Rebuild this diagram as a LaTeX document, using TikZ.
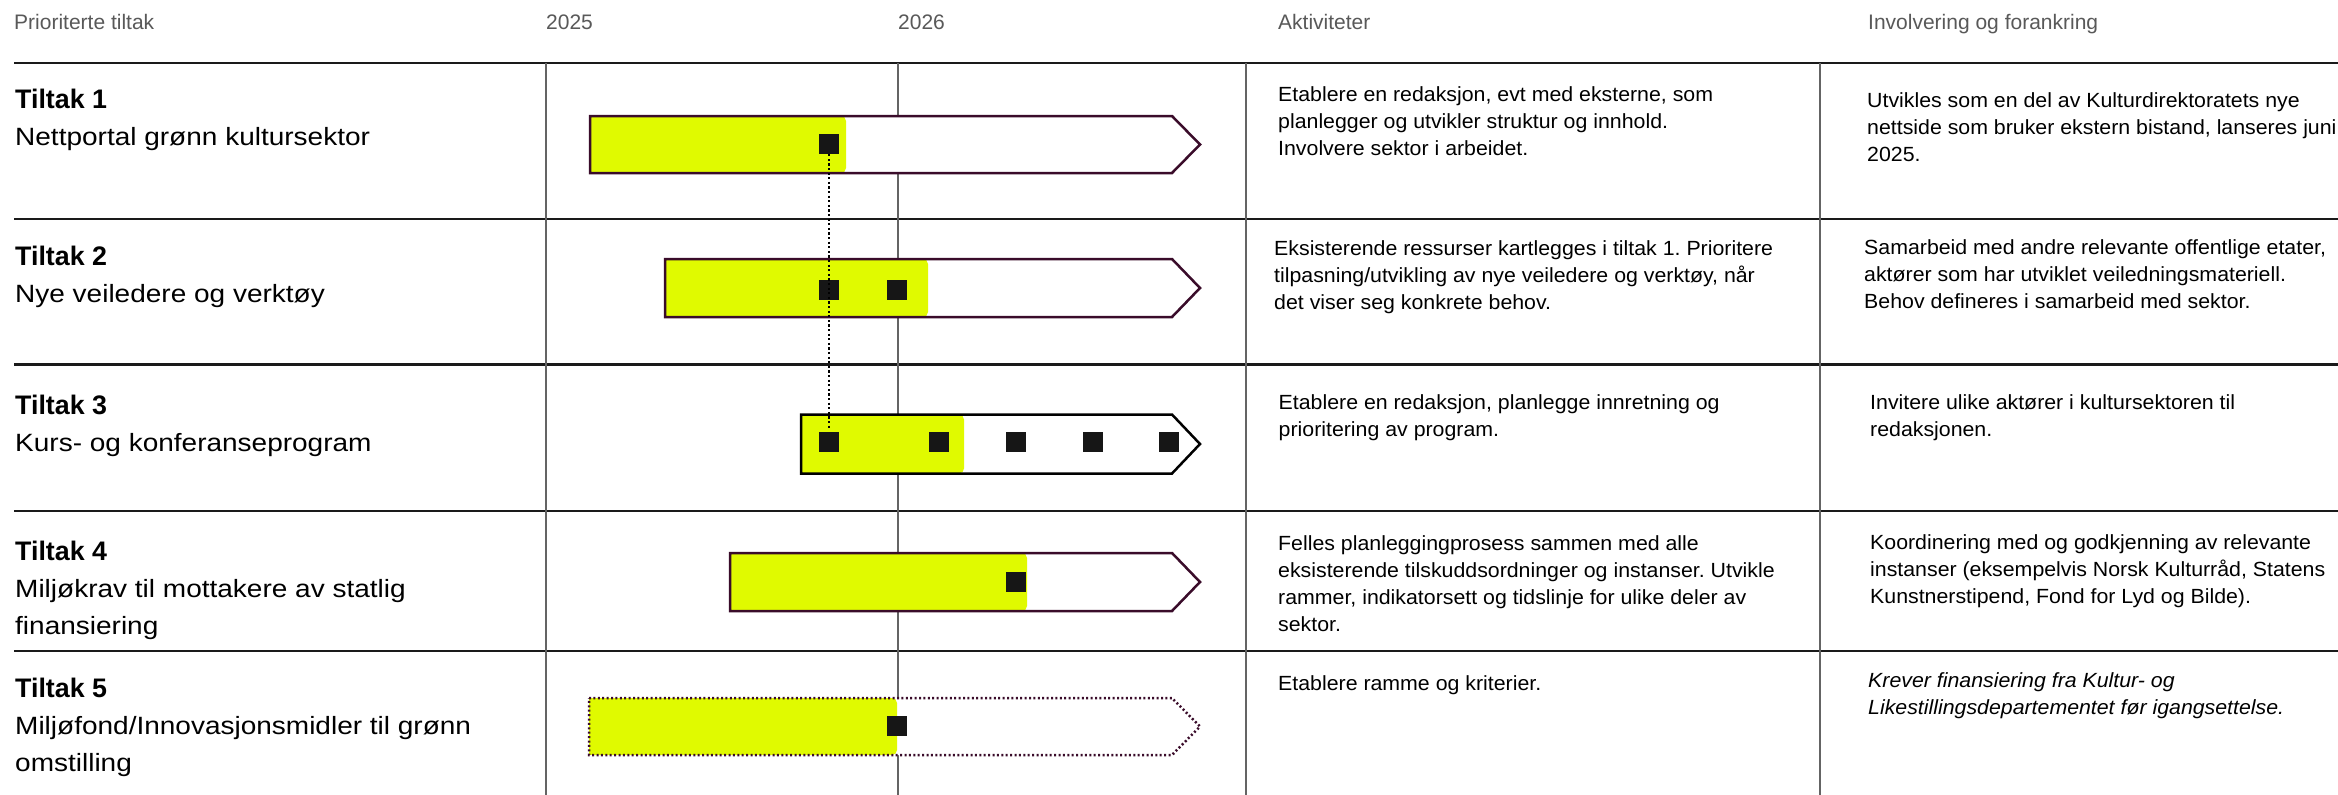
\documentclass[tikz,border=0pt]{standalone}
\usepackage{fontspec}
\setmainfont{Liberation Sans}
\newfontfamily\actfont{Liberation Sans}[FakeStretch=1.04]
\newfontfamily\lftfont{Liberation Sans}[FakeStretch=1.12]
\newfontfamily\tilfont{Liberation Sans}
\frenchspacing
\definecolor{ylw}{RGB}{224,250,0}
\definecolor{barline}{RGB}{58,12,42}
\definecolor{sqc}{RGB}{22,22,22}
\definecolor{hdrgray}{RGB}{89,89,89}
\definecolor{vgray}{RGB}{100,100,100}
\definecolor{hline}{RGB}{26,26,26}
\newcommand\blk[1]{\begin{tabular}[t]{@{}l@{}}#1\end{tabular}}
\newcommand\til[1]{{\tilfont\bfseries\fontsize{26.8}{37}\selectfont #1}}
% L T B Y M style
\newcommand\tbar[6]{%
  \fill[white] (#1,#2) -- (1172,#2) -- (1200,#5) -- (1172,#3) -- (#1,#3) -- cycle;
  \fill[ylw,rounded corners=5pt] (#1,#2) rectangle (#4,#3);
  \fill[ylw] (#1,#2) rectangle (#4-10,#3);
  \draw[#6] (#1,#2) -- (1172,#2) -- (1200,#5) -- (1172,#3) -- (#1,#3) -- cycle;
}
\begin{document}
\begin{tikzpicture}[x=1pt,y=-1pt,
  hdr/.style={anchor=base west,inner sep=0pt,text=hdrgray,font=\tilfont\fontsize{21}{25}\selectfont},
  lbl/.style={anchor=base west,inner sep=0pt,font=\lftfont\fontsize{25}{37}\selectfont},
  act/.style={anchor=base west,inner sep=0pt,font=\actfont\fontsize{20.5}{27}\selectfont},
  rowline/.style={draw=hline,line width=2.2pt},
  colline/.style={draw=vgray,line width=1.8pt},
  barbox/.style={draw=barline,line width=2.5pt,line join=miter},
  barblack/.style={draw=black,line width=2.5pt,line join=miter},
  bardot/.style={draw=barline,line width=2.5pt,dash pattern=on 2pt off 2.4pt},
  sq/.style={fill=sqc,draw=none,inner sep=0pt,minimum size=20pt},
  dotline/.style={draw=black,line width=2.3pt,dash pattern=on 2.2pt off 2.4pt}
]
\useasboundingbox (0,0) rectangle (2338,795);
\clip (0,0) rectangle (2338,795);
\fill[white] (0,0) rectangle (2338,795);

% grid
\foreach \yy in {63,219,364.5,511,651} \draw[rowline] (14,\yy) -- (2338,\yy);
\foreach \xx in {546,898,1246,1820} \draw[colline] (\xx,63) -- (\xx,795);

% headers
\node[hdr] (h1) at (14,29.3) {Prioriterte tiltak};
\node[hdr] (h2) at (546,29.3) {2025};
\node[hdr] (h3) at (898,29.3) {2026};
\node[hdr] (h4) at (1278,29.3) {Aktiviteter};
\node[hdr] (h5) at (1868,29.3) {Involvering og forankring};

% left column
\node[lbl] (t1) at (15,108.3) {\blk{\til{Tiltak 1}\\ Nettportal grønn kultursektor}};
\node[lbl] (t2) at (15,265) {\blk{\til{Tiltak 2}\\ Nye veiledere og verktøy}};
\node[lbl] (t3) at (15,414) {\blk{\til{Tiltak 3}\\ Kurs- og konferanseprogram}};
\node[lbl] (t4) at (15,560) {\blk{\til{Tiltak 4}\\ Miljøkrav til mottakere av statlig\\ finansiering}};
\node[lbl] (t5) at (15,697.3) {\blk{\til{Tiltak 5}\\ Miljøfond/Innovasjonsmidler til grønn\\ omstilling}};

% activities
\node[act] (a1) at (1278,101) {\blk{Etablere en redaksjon, evt med eksterne, som\\ planlegger og utvikler struktur og innhold.\\ Involvere sektor i arbeidet.}};
\node[act] (a2) at (1274,255.7) {\blk{Eksisterende ressurser kartlegges i tiltak 1. Prioritere\\ tilpasning/utvikling av nye veiledere og verktøy, når\\ det viser seg konkrete behov.}};
\node[act] (a3) at (1278.5,409.5) {\blk{Etablere en redaksjon, planlegge innretning og\\ prioritering av program.}};
\node[act] (a4) at (1278,550.7) {\blk{Felles planleggingprosess sammen med alle\\ eksisterende tilskuddsordninger og instanser. Utvikle\\ rammer, indikatorsett og tidslinje for ulike deler av\\ sektor.}};
\node[act] (a5) at (1278,690) {\blk{Etablere ramme og kriterier.}};

% involvement
\node[act] (r1) at (1867,107.3) {\blk{Utvikles som en del av Kulturdirektoratets nye\\ nettside som bruker ekstern bistand, lanseres juni\\ 2025.}};
\node[act] (r2) at (1864,254) {\blk{Samarbeid med andre relevante offentlige etater,\\ aktører som har utviklet veiledningsmateriell.\\ Behov defineres i samarbeid med sektor.}};
\node[act] (r3) at (1870,409.5) {\blk{Invitere ulike aktører i kultursektoren til\\ redaksjonen.}};
\node[act] (r4) at (1870,549) {\blk{Koordinering med og godkjenning av relevante\\ instanser (eksempelvis Norsk Kulturråd, Statens\\ Kunstnerstipend, Fond for Lyd og Bilde).}};
\node[act] (r5) at (1868,687) {\blk{\itshape Krever finansiering fra Kultur- og\\ \itshape Likestillingsdepartementet før igangsettelse.}};

% bars
\tbar{590}{116}{173}{846}{144.5}{barbox}
\tbar{665}{259}{317}{928}{288}{barbox}
\tbar{801}{414.5}{473.5}{964}{444}{barblack}
\tbar{730}{553}{611}{1027}{582}{barbox}
\tbar{589}{698}{755}{897}{726.5}{bardot}

% milestones
\node[sq] (s1) at (829,144) {};
\node[sq] (s2a) at (829,290) {};
\node[sq] (s2b) at (897,290) {};
\node[sq] (s3a) at (829,442) {};
\node[sq] (s3b) at (939,442) {};
\node[sq] (s3c) at (1016,442) {};
\node[sq] (s3d) at (1093,442) {};
\node[sq] (s3e) at (1169,442) {};
\node[sq] (s4) at (1016,582) {};
\node[sq] (s5) at (897,726) {};

\draw[dotline,shorten >=4pt] (s1.south) -- (s3a.north);
\end{tikzpicture}
\end{document}
